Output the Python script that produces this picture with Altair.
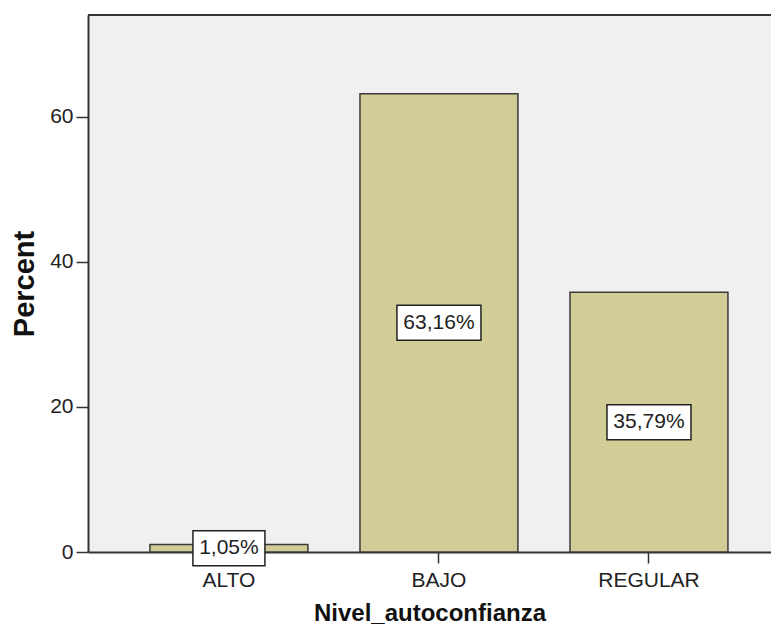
import altair as alt
import pandas as pd

categories = ["ALTO", "BAJO", "REGULAR"]
percents = [1.05, 63.16, 35.79]
labels = [f"{v:.2f}%".replace(".", ",") for v in percents]
y_ticks = [0, 20, 40, 60]

df = pd.DataFrame({"cat": categories, "pct": percents, "label": labels})

W, H = 683, 537
FONT = "Liberation Sans"

x_enc = alt.X(
    "cat:N",
    sort=categories,
    scale=alt.Scale(paddingInner=0.248, paddingOuter=0.25, align=0.59),
    axis=alt.Axis(
        title="Nivel_autoconfianza",
        labelAngle=0,
        labelFontSize=21,
        labelColor="#222222",
        labelFont=FONT,
        tickSize=11,
        tickColor="#333333",
        tickWidth=1.5,
        labelPadding=6,
        domainColor="#333333",
        domainWidth=2,
        titleFontSize=24,
        titleFontWeight="bold",
        titleFont=FONT,
        titleColor="#111111",
        titlePadding=11,
    ),
)

y_scale = alt.Scale(domain=[0, 74], nice=False)

bars = alt.Chart(df).mark_bar(
    color="#D2CD96", stroke="#3a3a3a", strokeWidth=1.5
).encode(
    x=x_enc,
    y=alt.Y(
        "pct:Q",
        scale=y_scale,
        axis=alt.Axis(
            title="Percent",
            values=y_ticks,
            grid=False,
            labelFontSize=21,
            labelColor="#222222",
            labelFont=FONT,
            tickSize=12,
            tickColor="#333333",
            tickWidth=1.5,
            labelPadding=3,
            domainColor="#333333",
            domainWidth=2,
            titleFontSize=29,
            titleFontWeight="bold",
            titleFont=FONT,
            titleColor="#111111",
            titlePadding=10,
        ),
    ),
)

base = alt.Chart(df).transform_calculate(
    mid="datum.pct / 2",
    hw="6 + 6 * length(datum.label)",
).transform_calculate(
    box="'M' + (-datum.hw) + ',-17.5 L' + datum.hw + ',-17.5 L' + datum.hw + ',17.5 L' + (-datum.hw) + ',17.5 Z'"
)

boxes = base.mark_point(
    filled=True, fill="white", stroke="#222222", strokeWidth=1.5, opacity=1
).encode(
    x=alt.X("cat:N", sort=categories),
    y=alt.Y("mid:Q", scale=y_scale),
    shape=alt.Shape("box:N", scale=None),
    size=alt.value(4),
)

texts = base.mark_text(
    fontSize=21, font=FONT, color="#222222", baseline="middle", align="center"
).encode(
    x=alt.X("cat:N", sort=categories),
    y=alt.Y("mid:Q", scale=y_scale),
    text="label:N",
)

top_border = alt.Chart(df).mark_rule(color="#333333", strokeWidth=2).encode(
    x=alt.value(0), x2=alt.value(W), y=alt.value(0)
)

chart = alt.layer(bars, boxes, texts, top_border).properties(
    width=W,
    height=H,
    autosize=alt.AutoSizeParams(type="none"),
    padding={"left": 80, "top": 7, "right": 0, "bottom": 76},
    background="white",
).configure_view(fill="#F0F0F0", stroke=None)

chart.save("out.html", embed_options={"renderer": "svg", "actions": False})
